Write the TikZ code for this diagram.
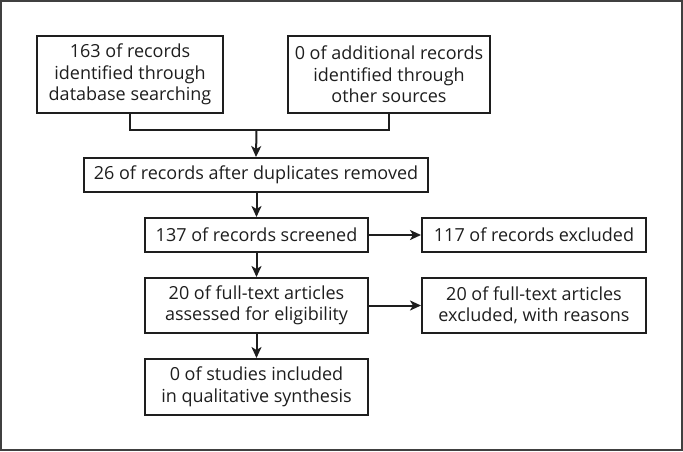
\documentclass[tikz,border=0pt]{standalone}
\usepackage{fontspec}
\setmainfont{Open Sans}
\usetikzlibrary{arrows.meta}
\definecolor{ink}{HTML}{1E1E1E}
\begin{document}
\begin{tikzpicture}[x=1pt,y=-1pt,
 box/.style={draw=ink, line width=2pt, align=center, inner sep=0pt, text=ink,
   font=\fontsize{18}{21.5}\selectfont},
 conn/.style={line width=2pt, draw=ink},
 arr/.style={conn, -{Stealth[length=11pt,width=10pt,inset=3pt]}}]
\useasboundingbox (0,0) rectangle (683,451);
\draw[line width=1.5pt, draw=ink!85] (1,1) rectangle (682,450);
\node[box, minimum width=186pt, minimum height=77pt] (b1) at (130,74.5) {163 of records\\identified through\\database searching};
\node[box, minimum width=202pt, minimum height=77pt] (b2) at (389,74.5) {0 of additional records\\identified through\\other sources};
\node[box, minimum width=344pt, minimum height=34pt] (b3) at (256,175) {26 of records after duplicates removed};
\node[box, minimum width=223pt, minimum height=34pt] (b4) at (256.5,235) {137 of records screened};
\node[box, minimum width=224pt, minimum height=34pt] (b5) at (534,235) {117 of records excluded};
\node[box, minimum width=223pt, minimum height=55pt] (b6) at (256.5,305.5) {20 of full-text articles\\assessed for eligibility};
\node[box, minimum width=224pt, minimum height=55pt] (b7) at (534,305.5) {20 of full-text articles\\excluded, with reasons};
\node[box, minimum width=223pt, minimum height=56pt] (b8) at (256.5,387) {0 of studies included\\in qualitative synthesis};
\coordinate (j) at (256.5,130);
\draw[conn] (b1.south) |- (b2.south |- j) -- (b2.south);
\draw[arr] (j) -- (b3.north);
\draw[arr] (b3.south -| b4.north) -- (b4.north);
\draw[arr] (b4.east) -- (b5.west);
\draw[arr] (b4.south) -- (b6.north);
\draw[arr] (b6.east) -- (b7.west);
\draw[arr] (b6.south) -- (b8.north);
\end{tikzpicture}
\end{document}
